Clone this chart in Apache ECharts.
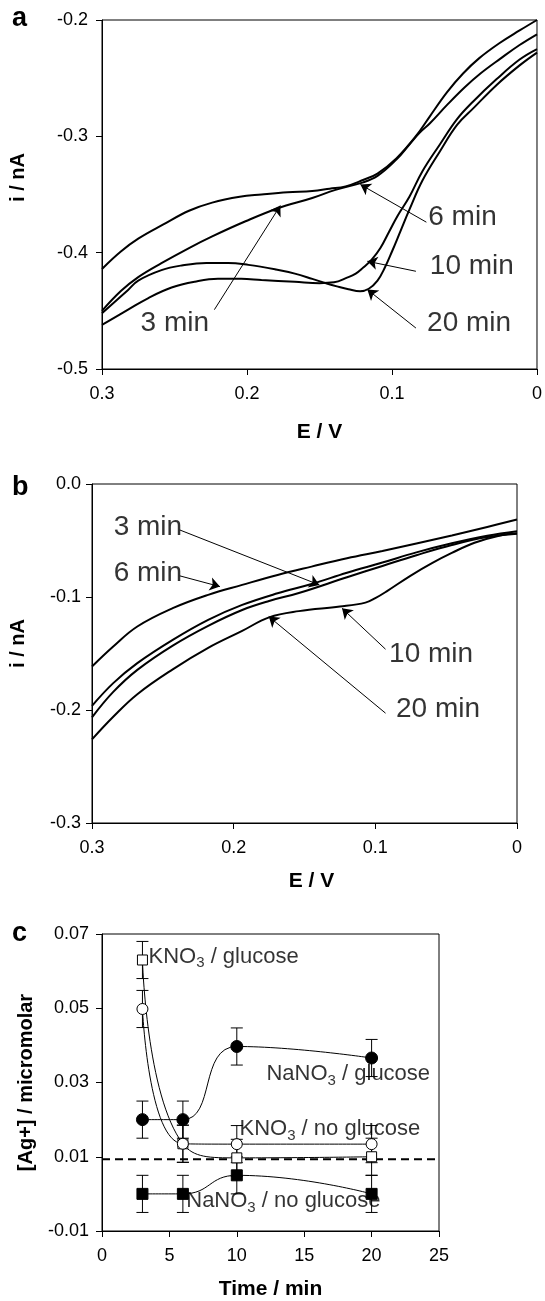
<!DOCTYPE html>
<html>
<head>
<meta charset="utf-8">
<script src="https://cdn.jsdelivr.net/npm/echarts@6/dist/echarts.min.js"></script>
<style>
  html, body { margin: 0; padding: 0; background: #fff; }
  #chart { width: 545px; height: 1301px; }
</style>
</head>
<body>
<div id="chart"></div>
<script>
// ---- panel a: voltammograms, [E / V, i / nA] ----
const a3min = [[0.300,-0.450],[0.287,-0.433],[0.275,-0.421],[0.259,-0.409],[0.240,-0.396],[0.224,-0.386],[0.201,-0.373],[0.179,-0.362],[0.155,-0.353],[0.139,-0.346],[0.121,-0.340],[0.110,-0.334],[0.097,-0.320],[0.088,-0.307],[0.081,-0.297],[0.074,-0.289],[0.062,-0.273],[0.050,-0.258],[0.039,-0.246],[0.025,-0.233],[0.012,-0.2215],[0.000,-0.2123]]
const a6min = [[0.300,-0.414],[0.287,-0.399],[0.275,-0.388],[0.258,-0.376],[0.240,-0.364],[0.224,-0.357],[0.205,-0.352],[0.190,-0.350],[0.172,-0.348],[0.155,-0.347],[0.143,-0.345],[0.132,-0.343],[0.120,-0.3375],[0.110,-0.332],[0.097,-0.319],[0.083,-0.299],[0.074,-0.283],[0.062,-0.262],[0.051,-0.246],[0.040,-0.233],[0.026,-0.220],[0.012,-0.209],[0.000,-0.200]]
// flat lower curve, turns up near 0.12 V
const a10min = [[0.300,-0.462],[0.282,-0.449],[0.268,-0.439],[0.252,-0.430],[0.236,-0.425],[0.220,-0.4225],[0.204,-0.4225],[0.190,-0.4235],[0.167,-0.425],[0.150,-0.4262],[0.140,-0.4255],[0.131,-0.4215],[0.125,-0.418],[0.120,-0.413],[0.114,-0.406],[0.108,-0.396],[0.102,-0.382],[0.096,-0.368],[0.088,-0.352],[0.079,-0.330],[0.067,-0.307],[0.055,-0.285],[0.044,-0.270],[0.028,-0.251],[0.012,-0.234],[0.000,-0.225]]
// curve with the hump near 0.22 V and the dip near 0.12 V
const a20min = [[0.300,-0.452],[0.282,-0.432],[0.275,-0.424],[0.259,-0.415],[0.245,-0.411],[0.228,-0.4088],[0.213,-0.4088],[0.199,-0.4105],[0.180,-0.4145],[0.167,-0.418],[0.155,-0.4225],[0.145,-0.4265],[0.138,-0.429],[0.130,-0.4315],[0.122,-0.4332],[0.116,-0.431],[0.110,-0.424],[0.105,-0.413],[0.100,-0.399],[0.094,-0.381],[0.088,-0.363],[0.079,-0.338],[0.067,-0.313],[0.055,-0.290],[0.044,-0.276],[0.028,-0.256],[0.012,-0.239],[0.000,-0.228]]

// annotation text anchors (left edge, middle) and arrows [tail, head]
const aLabels = [['6 min',0.075,-0.370],['10 min',0.0739,-0.4117],['20 min',0.0758,-0.461],['3 min',0.2734,-0.4604]]
const aArrows = [[[0.0763,-0.3738],[0.1218,-0.3414]],[[0.0835,-0.416],[0.117,-0.4074]],[[0.0835,-0.4648],[0.117,-0.4317]],[[0.2225,-0.449],[0.177,-0.3595]]]

// ---- panel b ----
const b3min = [[0.300,-0.1963],[0.285,-0.1762],[0.268,-0.1585],[0.243,-0.1379],[0.218,-0.1202],[0.194,-0.1070],[0.169,-0.0967],[0.145,-0.0885],[0.120,-0.0785],[0.095,-0.0695],[0.071,-0.0605],[0.046,-0.0525],[0.021,-0.0458],[0.000,-0.0418]]
const b6min = [[0.300,-0.1615],[0.285,-0.1438],[0.268,-0.1261],[0.243,-0.1099],[0.218,-0.0981],[0.194,-0.0893],[0.169,-0.0805],[0.145,-0.0731],[0.120,-0.0657],[0.095,-0.0593],[0.071,-0.0527],[0.046,-0.0455],[0.021,-0.0380],[0.000,-0.0315]]
const b10min = [[0.300,-0.226],[0.285,-0.206],[0.268,-0.186],[0.243,-0.164],[0.218,-0.145],[0.194,-0.130],[0.175,-0.118],[0.154,-0.1125],[0.125,-0.1085],[0.107,-0.105],[0.100,-0.101],[0.092,-0.095],[0.075,-0.081],[0.060,-0.070],[0.046,-0.061],[0.030,-0.052],[0.012,-0.0455],[0.000,-0.0436]]
const b20min = [[0.300,-0.2065],[0.285,-0.1840],[0.268,-0.1645],[0.243,-0.1430],[0.218,-0.1255],[0.194,-0.1115],[0.175,-0.1035],[0.154,-0.0965],[0.120,-0.0825],[0.095,-0.0725],[0.071,-0.0630],[0.046,-0.0540],[0.021,-0.0470],[0.000,-0.0440]]

const bLabels = [['3 min',0.2847,-0.0383],['6 min',0.2847,-0.079],['10 min',0.0903,-0.1506],['20 min',0.0854,-0.1998]]
const bArrows = [[[0.238,-0.0407],[0.1395,-0.0893]],[[0.238,-0.0813],[0.2097,-0.0908]],[[0.0928,-0.1462],[0.1235,-0.110]],[[0.0928,-0.2028],[0.1752,-0.1173]]]

// ---- panel c: [Ag+] vs time ----
const cTime = [3, 6, 10, 20]
const kno3Glucose = [0.0630, 0.0135, 0.0097, 0.0100]
const kno3NoGlucose = [0.0498, 0.0135, 0.0134, 0.0134]
const nano3Glucose = [0.0200, 0.0200, 0.0397, 0.0366]
const nano3NoGlucose = [0.0000, 0.0000, 0.0050, 0.0000]
const cErr = [0.005, 0.005, 0.005, 0.005]
const cBaseline = 0.0093
const cYTicks = [-0.01, 0.01, 0.03, 0.05, 0.07]
const cLabels = [['KNO', ' / glucose', 3.45, 0.0635], ['NaNO', ' / glucose', 12.2, 0.0318], ['KNO', ' / no glucose', 10.2, 0.0171], ['NaNO', ' / no glucose', 6.25, -0.0023]]

const FONT = '"Liberation Sans", Arial, sans-serif'
const chart = echarts.init(document.getElementById('chart'))

function xAxisCfg(grid, min, max, interval, inverse, fmt, name, nameGap, pad) {
  return {
    gridIndex: grid, type: 'value', min, max, interval, inverse,
    name, nameLocation: 'middle', nameGap,
    nameTextStyle: { fontSize: 21, fontWeight: 'bold', color: '#000', padding: pad || 0 },
    axisLine: { onZero: false, lineStyle: { color: '#000', width: 1 } },
    axisTick: { length: 6, lineStyle: { color: '#000' } },
    axisLabel: { fontSize: 18, color: '#000', margin: 16, formatter: fmt },
    splitLine: { show: false }
  }
}
function yAxisCfg(grid, min, max, interval, fmt, name, nameGap, pad, margin) {
  return {
    gridIndex: grid, type: 'value', min, max, interval,
    name, nameLocation: 'middle', nameRotate: 90, nameGap,
    nameTextStyle: { fontSize: 20, fontWeight: 'bold', color: '#000', padding: pad || 0 },
    axisLine: { onZero: false, lineStyle: { color: '#000', width: 1 } },
    axisTick: { length: 6, lineStyle: { color: '#000' } },
    axisLabel: { fontSize: 18, color: '#000', margin, formatter: fmt },
    splitLine: { show: false }
  }
}

const eFmt = v => (Math.abs(v) < 1e-9 ? '0' : v.toFixed(1))

function curve(grid, data) {
  return {
    type: 'line', xAxisIndex: grid, yAxisIndex: grid, data,
    smooth: 0.4, showSymbol: false, silent: true,
    lineStyle: { color: '#000', width: 2 }
  }
}
function textSeries(grid, labels, size) {
  return {
    type: 'scatter', xAxisIndex: grid, yAxisIndex: grid, symbolSize: 0, silent: true,
    data: labels.map(l => ({ name: l[0], value: [l[1], l[2]] })),
    label: { show: true, position: 'right', distance: 0, formatter: '{b}', fontSize: size, color: '#000' }
  }
}
function arrowSeries(grid, arrows) {
  return {
    type: 'lines', coordinateSystem: 'cartesian2d', xAxisIndex: grid, yAxisIndex: grid, silent: true,
    symbol: ['none', 'arrow'], symbolSize: 10,
    lineStyle: { color: '#000', width: 1, opacity: 1 },
    data: arrows.map(a => ({ coords: a }))
  }
}
function markerSeries(values, symbol, size, filled) {
  return {
    type: 'line', xAxisIndex: 2, yAxisIndex: 2, z: 4, silent: true,
    data: cTime.map((t, k) => [t, values[k]]),
    smooth: 0.5, symbol, symbolSize: size,
    itemStyle: { color: filled ? '#000' : '#fff', borderColor: '#000', borderWidth: 1 },
    lineStyle: { color: '#000', width: 1 }
  }
}
function errorSeries(values) {
  return {
    type: 'custom', xAxisIndex: 2, yAxisIndex: 2, z: 3, silent: true,
    data: cTime.map((t, k) => [t, values[k] - cErr[k], values[k] + cErr[k]]),
    renderItem(params, api) {
      const lo = api.coord([api.value(0), api.value(1)])
      const hi = api.coord([api.value(0), api.value(2)])
      const w = 6
      const st = { stroke: '#000', lineWidth: 1 }
      return {
        type: 'group', children: [
          { type: 'line', shape: { x1: lo[0], y1: lo[1], x2: hi[0], y2: hi[1] }, style: st },
          { type: 'line', shape: { x1: lo[0] - w, y1: lo[1], x2: lo[0] + w, y2: lo[1] }, style: st },
          { type: 'line', shape: { x1: hi[0] - w, y1: hi[1], x2: hi[0] + w, y2: hi[1] }, style: st }
        ]
      }
    }
  }
}

const option = {
  animation: false,
  backgroundColor: '#fff',
  textStyle: { fontFamily: FONT, color: '#000' },
  grid: [
    { left: 102, right: 7, top: 20, height: 349, show: true, borderColor: '#000', borderWidth: 1 },
    { left: 92, right: 28, top: 484, height: 339, show: true, borderColor: '#000', borderWidth: 1 },
    { left: 102, right: 106, top: 934, height: 299, show: true, borderColor: '#000', borderWidth: 1 }
  ],
  xAxis: [
    xAxisCfg(0, 0, 0.3, 0.1, true, eFmt, 'E / V', 53),
    xAxisCfg(1, 0, 0.3, 0.1, true, eFmt, 'E / V', 48, [0, 0, 0, 14]),
    xAxisCfg(2, 0, 25, 5, false, null, 'Time / min', 48)
  ],
  yAxis: [
    yAxisCfg(0, -0.5, -0.2, 0.1, v => v.toFixed(1), 'i / nA', 74, [0, 0, 0, 34], 14),
    yAxisCfg(1, -0.3, 0, 0.1, v => v.toFixed(1), 'i / nA', 64, [0, 0, 0, 20], 11),
    Object.assign(yAxisCfg(2, -0.01, 0.07, null, v => v.toFixed(2), '[Ag+] / micromolar', 66, 0, 13), {
      axisLabel: { fontSize: 18, color: '#000', margin: 13, formatter: v => v.toFixed(2), customValues: cYTicks },
      axisTick: { length: 6, lineStyle: { color: '#000' }, customValues: cYTicks }
    })
  ],
  graphic: [
    { type: 'text', left: 12, top: 5, style: { text: 'a', font: 'bold 27px ' + FONT, fill: '#000' } },
    { type: 'text', left: 12, top: 474, style: { text: 'b', font: 'bold 27px ' + FONT, fill: '#000' } },
    { type: 'text', left: 12, top: 920, style: { text: 'c', font: 'bold 27px ' + FONT, fill: '#000' } }
  ],
  series: [
    curve(0, a3min), curve(0, a6min), curve(0, a10min), curve(0, a20min),
    arrowSeries(0, aArrows), textSeries(0, aLabels, 28),
    curve(1, b3min), curve(1, b6min), curve(1, b10min), curve(1, b20min),
    arrowSeries(1, bArrows), textSeries(1, bLabels, 28),
    {
      type: 'line', xAxisIndex: 2, yAxisIndex: 2, silent: true, showSymbol: false, z: 1,
      data: [[0, cBaseline], [25, cBaseline]],
      lineStyle: { color: '#000', width: 2, type: [8, 5] }
    },
    errorSeries(kno3Glucose), errorSeries(kno3NoGlucose), errorSeries(nano3Glucose), errorSeries(nano3NoGlucose),
    markerSeries(kno3Glucose, 'rect', 10, false),
    markerSeries(kno3NoGlucose, 'circle', 11, false),
    markerSeries(nano3Glucose, 'circle', 12, true),
    markerSeries(nano3NoGlucose, 'rect', 11, true),
    {
      type: 'scatter', xAxisIndex: 2, yAxisIndex: 2, symbolSize: 0, silent: true, z: 5,
      data: cLabels.map(l => ({ name: l[0] + '|' + l[1], value: [l[2], l[3]] })),
      label: {
        show: true, position: 'right', distance: 0, color: '#000',
        formatter: p => {
          const [head, tail] = p.name.split('|')
          return '{t|' + head + '}{s|3}{t|' + tail + '}'
        },
        rich: {
          t: { fontSize: 22, lineHeight: 25, verticalAlign: 'top', color: '#000' },
          s: { fontSize: 15, lineHeight: 15, verticalAlign: 'bottom', padding: [12, 0, 0, 0], color: '#000' }
        }
      }
    }
  ]
}

chart.setOption(option)
</script>
</body>
</html>
